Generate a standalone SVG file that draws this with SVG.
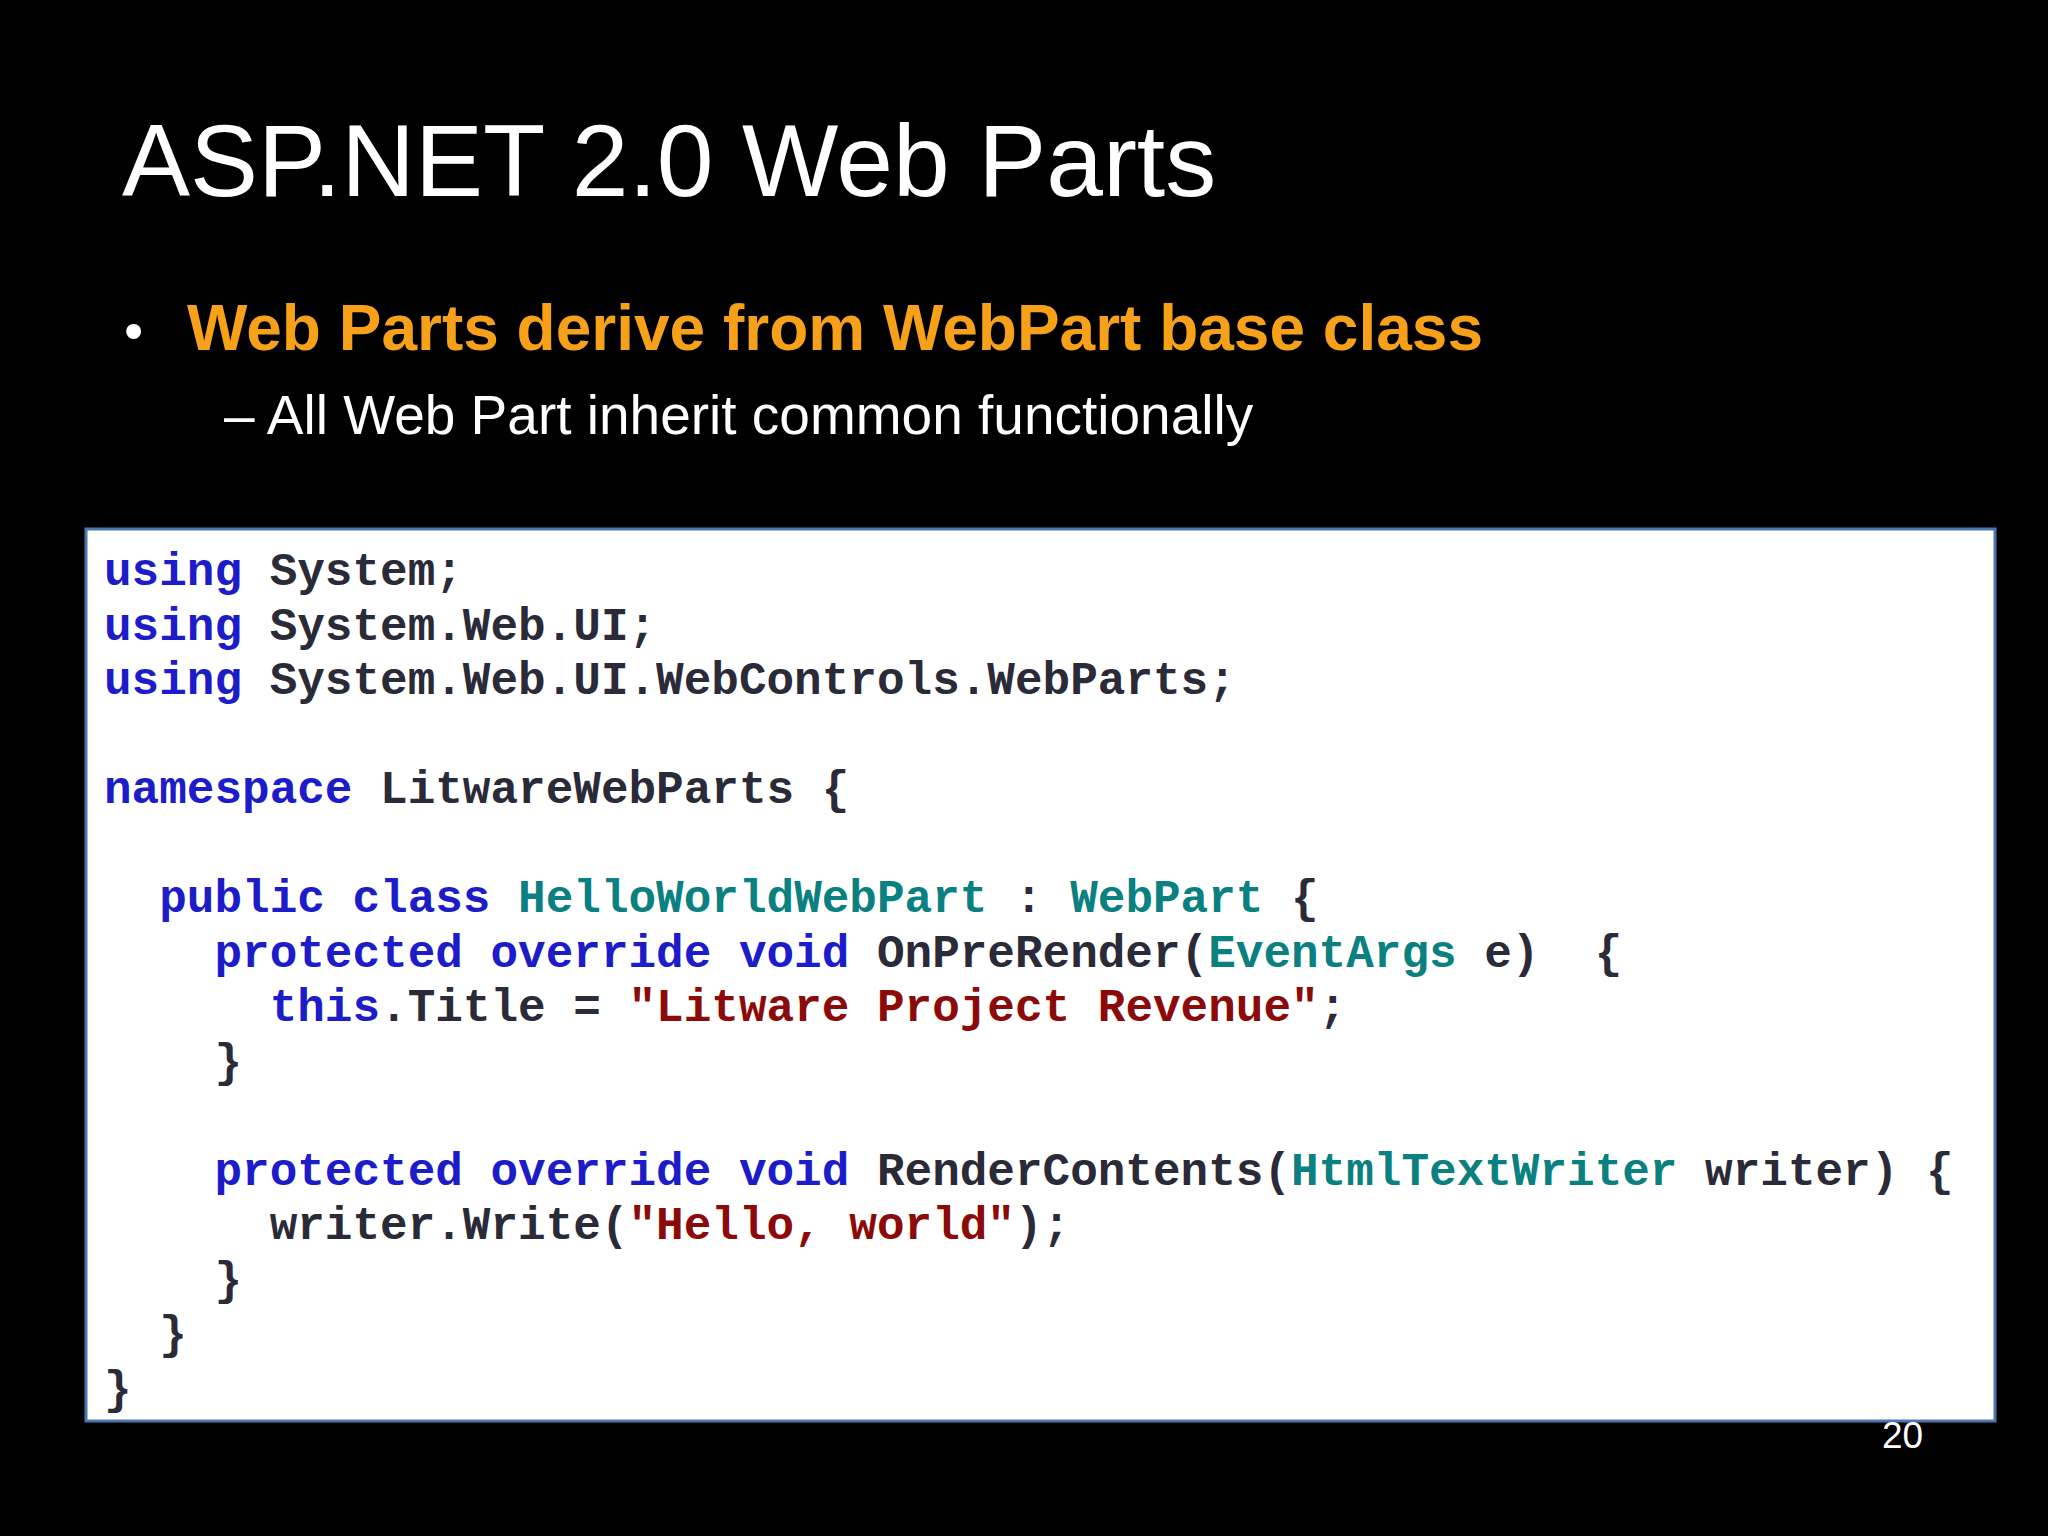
<svg xmlns="http://www.w3.org/2000/svg" width="2048" height="1536" viewBox="0 0 2048 1536">
<style>
.t{font-family:"Liberation Sans",Arial,sans-serif;fill:#fff}
.c{font-family:"Liberation Mono","Courier New",monospace;font-weight:bold;font-size:46px;fill:#2a2a38}
.k{fill:#1c1cc8}.ty{fill:#0a8080}.s{fill:#8b0a0a}
</style>
<rect width="2048" height="1536" fill="#000"/>
<g id="title"><text class="t" x="122" y="196" font-size="102" fill="#f2f2f2">ASP.NET 2.0 Web Parts</text></g>
<g id="bullet">
<text class="t" x="124" y="350" font-size="55">•</text>
<text class="t" x="187" y="350" font-size="64" font-weight="bold" style="fill:#f7a11a">Web Parts derive from WebPart base class</text>
<text class="t" x="224" y="434" font-size="55">–  All Web Part inherit common functionally</text>
</g>
<g id="code">
<rect x="86" y="529" width="1909" height="892" fill="#fff" stroke="#4a78b0" stroke-width="3"/>
<text class="c" xml:space="preserve">
<tspan x="104" y="585"><tspan class="k">using</tspan> System;</tspan>
<tspan x="104" y="639.5"><tspan class="k">using</tspan> System.Web.UI;</tspan>
<tspan x="104" y="694"><tspan class="k">using</tspan> System.Web.UI.WebControls.WebParts;</tspan>
<tspan x="104" y="803"><tspan class="k">namespace</tspan> LitwareWebParts {</tspan>
<tspan x="104" y="912">  <tspan class="k">public class</tspan> <tspan class="ty">HelloWorldWebPart</tspan> : <tspan class="ty">WebPart</tspan> {</tspan>
<tspan x="104" y="966.5">    <tspan class="k">protected override void</tspan> OnPreRender(<tspan class="ty">EventArgs</tspan> e)  {</tspan>
<tspan x="104" y="1021">      <tspan class="k">this</tspan>.Title = <tspan class="s">"Litware Project Revenue"</tspan>;</tspan>
<tspan x="104" y="1075.5">    }</tspan>
<tspan x="104" y="1184.5">    <tspan class="k">protected override void</tspan> RenderContents(<tspan class="ty">HtmlTextWriter</tspan> writer) {</tspan>
<tspan x="104" y="1239">      writer.Write(<tspan class="s">"Hello, world"</tspan>);</tspan>
<tspan x="104" y="1293.5">    }</tspan>
<tspan x="104" y="1348">  }</tspan>
<tspan x="104" y="1402.5">}</tspan>
</text>
</g>
<g id="page"><text class="t" x="1882" y="1448" font-size="37">20</text></g>
</svg>
